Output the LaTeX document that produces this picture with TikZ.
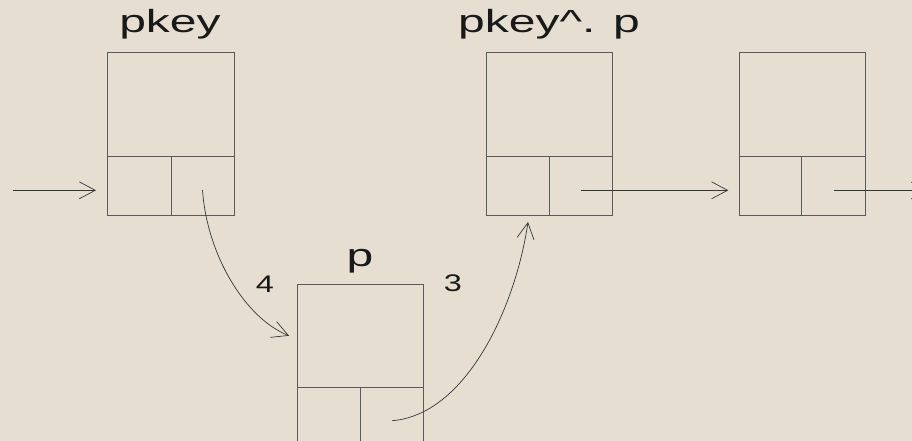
\documentclass[tikz,border=0pt]{standalone}
\usepackage{fontspec}
\setmainfont{Liberation Sans}
\newfontfamily\lblfont[FakeStretch=1.5]{Liberation Sans}
\newfontfamily\numfont[FakeStretch=1.35]{Liberation Sans}
\usetikzlibrary{arrows.meta}
\definecolor{bg}{RGB}{229,222,209}
\definecolor{boxline}{RGB}{90,90,90}
\definecolor{arrline}{RGB}{55,55,55}
\definecolor{txt}{RGB}{25,25,25}
\tikzset{
 cellbox/.style={draw=boxline, line width=0.9pt, inner sep=0pt, outer sep=0pt, anchor=north west},
 link/.style={draw=arrline, line width=0.7pt, -{Straight Barb[length=16pt,width=17pt,line width=0.7pt]}},
 title/.style={font=\lblfont\fontsize{32}{32}\selectfont, text=txt, anchor=base, inner sep=0pt},
 num/.style={font=\numfont\fontsize{24}{24}\selectfont, text=txt, inner sep=0pt},
}
\begin{document}
\begin{tikzpicture}[x=1pt,y=-1pt]
\useasboundingbox (0,0) rectangle (912,441);
\clip (0,0) rectangle (912,441);
\fill[bg] (0,0) rectangle (912,441);

% box pkey
\node[cellbox, minimum width=127pt, minimum height=103.5pt] (k1t) at (107,52.5) {};
\node[cellbox, minimum width=64pt, minimum height=59pt] (k1l) at (107,156) {};
\node[cellbox, minimum width=63pt, minimum height=59pt] (k1r) at (171,156) {};
% box pkey^.p
\node[cellbox, minimum width=126pt, minimum height=103.5pt] (k2t) at (486.5,52.5) {};
\node[cellbox, minimum width=63pt, minimum height=59pt] (k2l) at (486.5,156) {};
\node[cellbox, minimum width=63pt, minimum height=59pt] (k2r) at (549.5,156) {};
% box 3
\node[cellbox, minimum width=126.5pt, minimum height=103.5pt] (k3t) at (739,52.5) {};
\node[cellbox, minimum width=62.5pt, minimum height=59pt] (k3l) at (739,156) {};
\node[cellbox, minimum width=64pt, minimum height=59pt] (k3r) at (801.5,156) {};
% box p
\node[cellbox, minimum width=126.5pt, minimum height=102.5pt] (kpt) at (297,284.5) {};
\node[cellbox, minimum width=63.5pt, minimum height=59pt] (kpl) at (297,387) {};
\node[cellbox, minimum width=63pt, minimum height=59pt] (kpr) at (360.5,387) {};

% labels
\node[title] (l1) at (170,33) {pkey};
\node[title] (l2) at (549,33) {pkey\textasciicircum. p};
\node[title] (l3) at (360,266) {p};
\node[num] (n4) at (265,284) {4};
\node[num] (n3) at (453,283.5) {3};

% connectors
\coordinate (in) at (13,190.3);
\coordinate (out) at (928,190.5);
\draw[link] (in) -- ([xshift=-11pt, yshift=-4.8pt]k1l.west);
\draw[link] ([yshift=-4.8pt]k2r.center) -- ([xshift=-10.7pt,yshift=-4.8pt]k3l.west);
\draw[link] ([yshift=-5pt]k3r.center) -- (out);
\draw[link] ([yshift=-4.5pt]k1r.center) .. controls (207,255) and (245,318) .. ([xshift=-8pt]kpt.west);
\draw[link] ([yshift=-4.2pt]kpr.center) .. controls (465,415) and (515,310) .. ([xshift=10pt,yshift=-7pt]k2l.south);
\end{tikzpicture}
\end{document}
